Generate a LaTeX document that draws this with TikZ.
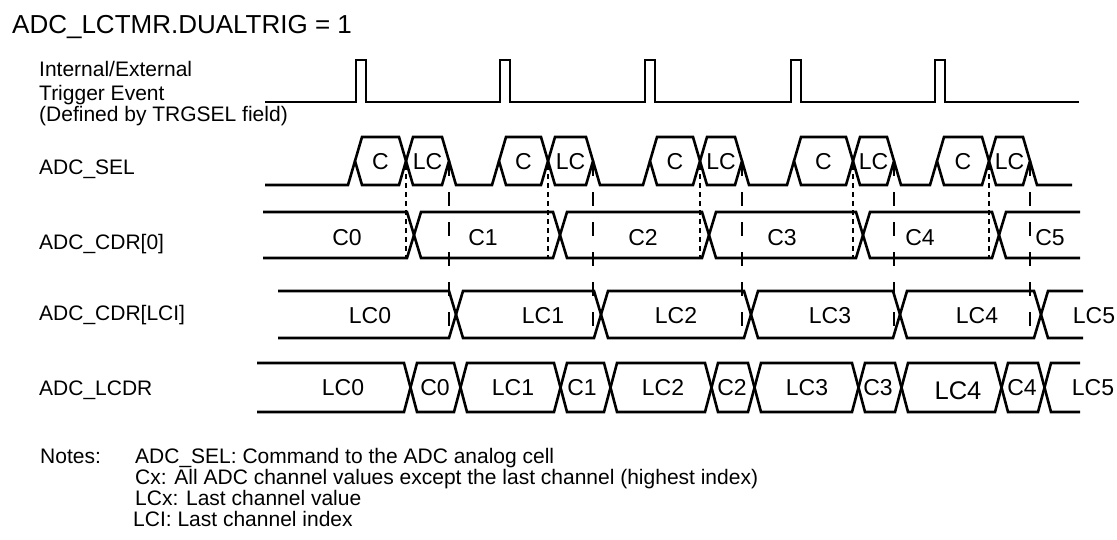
\documentclass[tikz,border=0pt]{standalone}
\usepackage{fontspec}
\setmainfont{Liberation Sans}
\usetikzlibrary{positioning,calc}

\begin{document}
\begin{tikzpicture}[
    x=1pt, y=-1pt,
    wave/.style={line width=2.6pt, line join=miter},
    shortdash/.style={line width=1.3pt, dash pattern=on 5pt off 4pt},
    longdash/.style={line width=1.3pt, dash pattern=on 14pt off 16pt},
    rowlabel/.style={anchor=base west, inner sep=0pt, font=\fontsize{21}{21}\selectfont},
    vallabel/.style={anchor=base, inner sep=0pt, font=\fontsize{23}{23}\selectfont} % values inside the buses
]
\useasboundingbox (0,0) rectangle (1117,539);

% Title and signal names
\node[anchor=base west, inner sep=0pt, font=\fontsize{26}{26}\selectfont] (title) at (12,33) {ADC\_LCTMR.DUALTRIG = 1};
\node[rowlabel] (trg1) at (39,76) {Internal/External};
\node[rowlabel] (trg2) at (39,100) {Trigger Event};
\node[rowlabel] (trg3) at (39,121) {(Defined by TRGSEL field)};
\node[rowlabel] (sel) at (39,174) {ADC\_SEL};
\node[rowlabel] (cdr0) at (39,249) {ADC\_CDR[0]};
\node[rowlabel] (cdrlci) at (39,320) {ADC\_CDR[LCI]};
\node[rowlabel] (lcdr) at (39,395) {ADC\_LCDR};

% Trigger event
\draw[wave] (265,102) foreach \p in {356,500,645,791,935}{ -- (\p,102) -- (\p,60) -- (\p+10,60) -- (\p+10,102) } -- (1079,102);

% ADC_SEL
\draw[wave] (265,185) foreach \rs/\da/\db in {348/406/449,492/548/593,643/700/742,787/853/894,930/989/1030}{ -- (\rs,185) -- (\rs+7,161) (\db,161) -- (\db+7,185) } -- (1072,185);
\foreach \rs/\da/\db [count=\k] in {348/406/449,492/548/593,643/700/742,787/853/894,930/989/1030}{
  \draw[wave] (\rs+7,161) -- (\rs+14,137) -- (\da-7,137) -- (\da,161) -- (\da-7,185) -- (\rs+14,185) -- cycle;
  \draw[wave] (\da,161) -- (\da+7,137) -- (\db-7,137) -- (\db,161) -- (\db-7,185) -- (\da+7,185) -- cycle;
  \node[vallabel] (selc\k) at ({(\rs+\da+7)/2},169) {C};
  \node[vallabel] (sellc\k) at ({(\da+\db)/2},169) {LC};
}

% Markers
\foreach \da in {406,548,700,853,989} \draw[shortdash] (\da,165) -- (\da,258);
\foreach \db in {449,593,742,894,1030} \draw[longdash] (\db,162) -- (\db,338);

% ADC_CDR[0]
\draw[wave] (263,212) -- (407,212) -- (414,235) -- (407,258) -- (263,258);
\foreach \s/\e in {407/553,553/702,702/856,856/992}
  \draw[wave] (\s+7,235) -- (\s+14,212) -- (\e,212) -- (\e+7,235) -- (\e,258) -- (\s+14,258) -- cycle;
\draw[wave] (1080,212) -- (1006,212) -- (999,235) -- (1006,258) -- (1080,258);
\foreach \lab/\x [count=\k] in {C0/347,C1/483,C2/643,C3/782,C4/920,C5/1050}
  \node[vallabel] (cz\k) at (\x,245) {\lab};

% ADC_CDR[LCI]
\draw[wave] (278,291) -- (449,291) -- (456,314.5) -- (449,338) -- (278,338);
\foreach \s/\e in {449/594,594/744,744/893,893/1034}
  \draw[wave] (\s+7,314.5) -- (\s+14,291) -- (\e,291) -- (\e+7,314.5) -- (\e,338) -- (\s+14,338) -- cycle;
\draw[wave] (1083,291) -- (1048,291) -- (1041,314.5) -- (1048,338) -- (1083,338);
\foreach \lab/\x [count=\k] in {LC0/370,LC1/543,LC2/676,LC3/830,LC4/977,LC5/1094}
  \node[vallabel] (cl\k) at (\x,323) {\lab};

% ADC_LCDR
\draw[wave] (257,363) -- (404,363) -- (410.5,387.5) -- (404,412) -- (257,412);
\foreach \s/\e in {404/454,454/554,554/604,604/705,705/748,748/852,852/895,895/995,995/1038}
  \draw[wave] (\s+6.5,387.5) -- (\s+13,363) -- (\e,363) -- (\e+6.5,387.5) -- (\e,412) -- (\s+13,412) -- cycle;
\draw[wave] (1080,363) -- (1051,363) -- (1044.5,387.5) -- (1051,412) -- (1080,412);
\foreach \lab/\x [count=\k] in {LC0/343,C0/435,LC1/513,C1/582,LC2/663,C2/732,LC3/807,C3/878,C4/1022,LC5/1093}
  \node[vallabel] (ld\k) at (\x,395) {\lab};
\node[vallabel, font=\fontsize{25.5}{25.5}\selectfont] (ldbig) at (958,399) {LC4};

% Notes
\node[rowlabel] (notes) at (40,463) {Notes:};
\node[rowlabel] (note1) at (135,463) {ADC\_SEL: Command to the ADC analog cell};
\node[rowlabel] (note2) at (135,484) {Cx: All ADC channel values except the last channel (highest index)};
\node[rowlabel] (note3) at (135,505) {LCx: Last channel value};
\node[rowlabel] (note4) at (133,526) {LCI: Last channel index};

\end{tikzpicture}
\end{document}
